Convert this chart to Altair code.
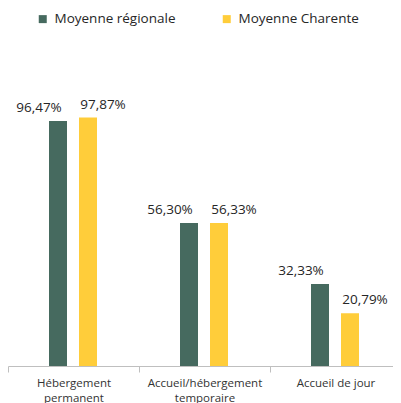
import altair as alt
import pandas as pd

categories = ["Hébergement permanent", "Accueil/hébergement temporaire", "Accueil de jour"]
series = ["Moyenne régionale", "Moyenne Charente"]
regional = [96.47, 56.30, 32.33]
charente = [97.87, 56.33, 20.79]
colors = ["#466A5F", "#FFCD3A"]

rows = []
for i, c in enumerate(categories):
    rows.append({"cat": c, "serie": series[0], "v": regional[i]})
    rows.append({"cat": c, "serie": series[1], "v": charente[i]})
df = pd.DataFrame(rows)

FONT = "Open Sans"

x = alt.X("cat:N", sort=categories, title=None,
          scale=alt.Scale(paddingInner=0, paddingOuter=0, range=[0, 393]),
          axis=alt.Axis(labelAngle=0, tickBand="extent", domainColor="#BFBFBF",
                        tickColor="#BFBFBF", tickSize=6, labelFont=FONT, labelFontSize=11.5,
                        labelColor="#333333", labelPadding=5, labelLineHeight=15,
                        labelLimit=200,
                        labelExpr="datum.label == 'Accueil de jour' ? datum.label : split(datum.label, ' ')"))
xo = alt.XOffset("serie:N", sort=series,
                 scale=alt.Scale(paddingInner=0.4, paddingOuter=0, range=[41, 89]))
y = alt.Y("v:Q", axis=None, scale=alt.Scale(domain=[0, 141]))

base = alt.Chart(df)

bars = base.mark_bar().encode(
    x=x, xOffset=xo, y=y,
    color=alt.Color("serie:N", sort=series, title=None,
                    scale=alt.Scale(domain=series, range=colors),
                    legend=alt.Legend(orient="none", legendX=28, legendY=4, direction="horizontal",
                                      symbolType="square", symbolSize=64, symbolStrokeWidth=0,
                                      labelFont=FONT, labelFontSize=13.5, labelColor="#262626",
                                      labelOffset=5, columnPadding=44))
)

def lab(s, dx):
    return base.transform_filter(alt.datum.serie == s).transform_calculate(
        t="replace(format(datum.v, '.2f'), '.', ',') + '%'"
    ).mark_text(dx=dx, dy=-6, baseline="bottom", font=FONT, fontSize=13.5, color="#262626").encode(
        x=x, xOffset=xo, y=y, text="t:N")

chart = alt.layer(bars, lab(series[0], -19), lab(series[1], 15)).properties(
    width=385, height=358, padding={"left": 0, "top": 0, "right": 0, "bottom": 37},
    autosize=alt.AutoSizeParams(type="none")
).configure_view(stroke=None)

chart.save("out.html", embed_options={"renderer": "svg", "actions": False})
